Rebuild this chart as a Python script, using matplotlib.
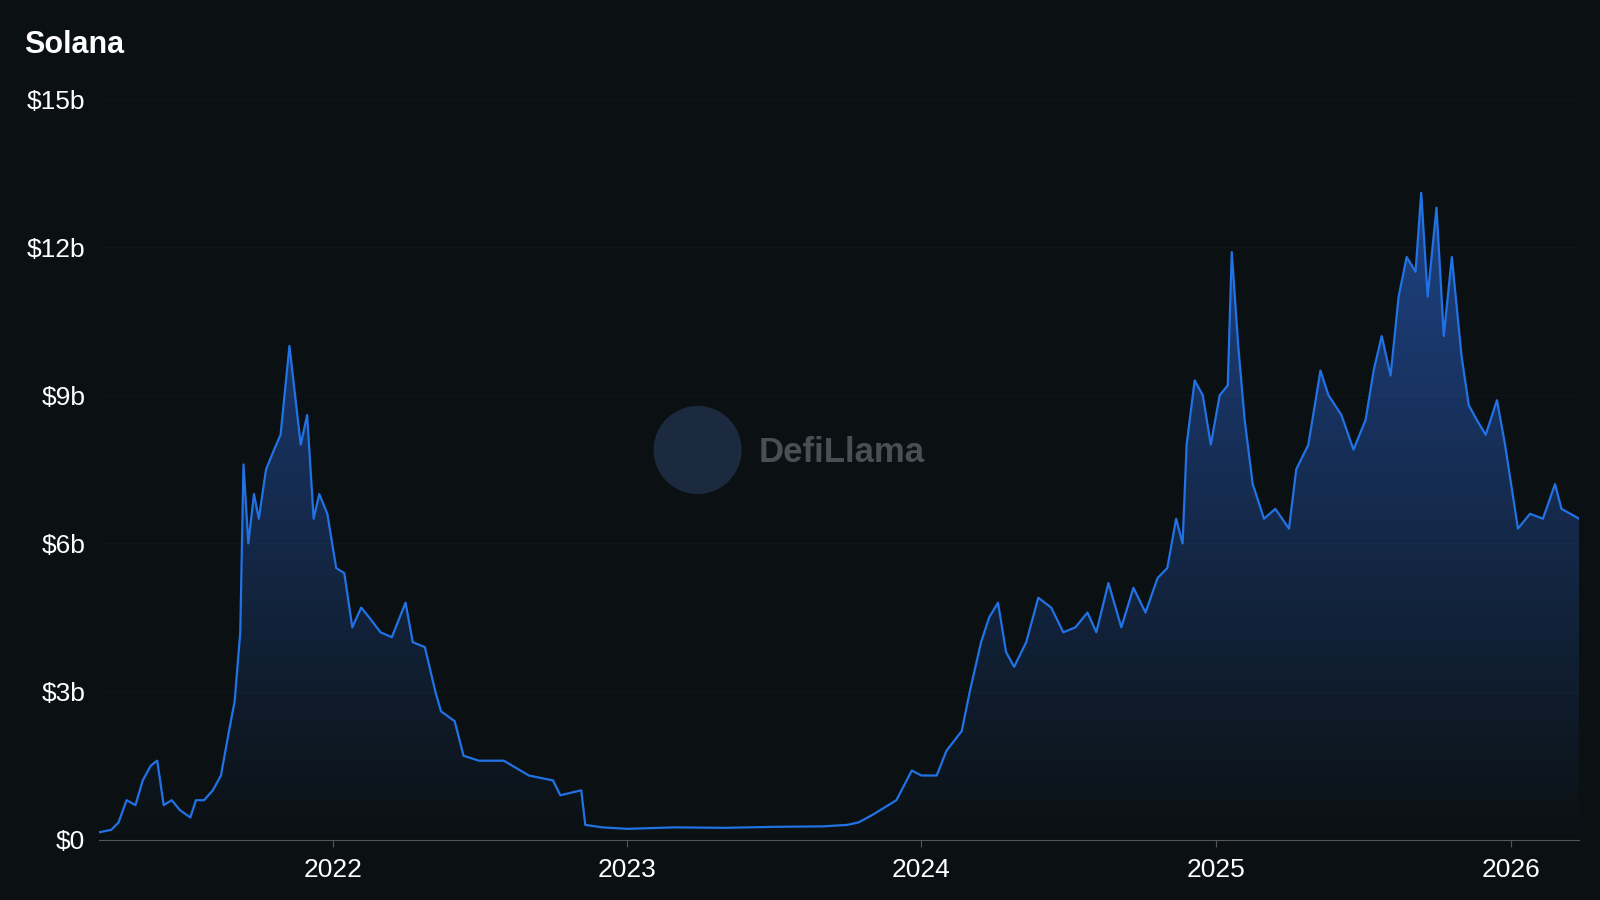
import matplotlib
matplotlib.use("Agg")
import matplotlib.pyplot as plt
import matplotlib.dates as mdates
import numpy as np
import pandas as pd
from matplotlib.patches import Polygon, Ellipse
from matplotlib.colors import LinearSegmentedColormap

plt.rcParams['font.family'] = ['Liberation Sans', 'DejaVu Sans']

dates = ["2021-03-17","2021-04-01","2021-04-10","2021-04-20","2021-05-01","2021-05-10","2021-05-20","2021-05-28",
"2021-06-05","2021-06-15","2021-06-25","2021-07-08","2021-07-15","2021-07-25","2021-08-05","2021-08-15","2021-08-25",
"2021-09-01","2021-09-08","2021-09-12","2021-09-18","2021-09-25","2021-10-01","2021-10-10","2021-10-20","2021-10-28",
"2021-11-05","2021-11-08","2021-11-15","2021-11-22","2021-11-30","2021-12-08","2021-12-15","2021-12-25","2022-01-05",
"2022-01-15","2022-01-25","2022-02-05","2022-02-15","2022-03-01","2022-03-15","2022-04-01","2022-04-10","2022-04-25",
"2022-05-08","2022-05-15","2022-06-01","2022-06-12","2022-07-01","2022-08-01","2022-09-01","2022-10-01","2022-10-10",
"2022-11-05","2022-11-10","2022-12-01","2023-01-01","2023-03-01","2023-05-01","2023-07-01","2023-09-01","2023-10-01",
"2023-10-15","2023-11-01","2023-12-01","2023-12-20","2024-01-01","2024-01-20","2024-02-01","2024-02-20","2024-03-01",
"2024-03-15","2024-03-25","2024-04-05","2024-04-15","2024-04-25","2024-05-10","2024-05-25","2024-06-10","2024-06-25",
"2024-07-10","2024-07-25","2024-08-05","2024-08-20","2024-09-05","2024-09-20","2024-10-05","2024-10-20","2024-11-01",
"2024-11-12","2024-11-20","2024-11-25","2024-12-05","2024-12-15","2024-12-25","2025-01-05","2025-01-15","2025-01-20",
"2025-01-28","2025-02-05","2025-02-15","2025-03-01","2025-03-15","2025-04-01","2025-04-10","2025-04-25","2025-05-10",
"2025-05-20","2025-06-05","2025-06-20","2025-07-05","2025-07-15","2025-07-25","2025-08-05","2025-08-15","2025-08-25",
"2025-09-05","2025-09-12","2025-09-20","2025-10-01","2025-10-10","2025-10-20","2025-11-01","2025-11-10","2025-11-20",
"2025-12-01","2025-12-15","2025-12-25","2026-01-10","2026-01-25","2026-02-10","2026-02-25","2026-03-05","2026-03-27"]
tvl = [0.15,0.2,0.35,0.8,0.7,1.2,1.5,1.6,
0.7,0.8,0.6,0.45,0.8,0.8,1.0,1.3,2.2,
2.8,4.2,7.6,6.0,7.0,6.5,7.5,7.9,8.2,
9.5,10.0,9.0,8.0,8.6,6.5,7.0,6.6,5.5,
5.4,4.3,4.7,4.5,4.2,4.1,4.8,4.0,3.9,
3.0,2.6,2.4,1.7,1.6,1.6,1.3,1.2,0.9,
1.0,0.3,0.25,0.22,0.25,0.24,0.26,0.27,0.3,
0.35,0.5,0.8,1.4,1.3,1.3,1.8,2.2,3.0,
4.0,4.5,4.8,3.8,3.5,4.0,4.9,4.7,4.2,
4.3,4.6,4.2,5.2,4.3,5.1,4.6,5.3,5.5,
6.5,6.0,8.0,9.3,9.0,8.0,9.0,9.2,11.9,
10.0,8.5,7.2,6.5,6.7,6.3,7.5,8.0,9.5,
9.0,8.6,7.9,8.5,9.5,10.2,9.4,11.0,11.8,
11.5,13.1,11.0,12.8,10.2,11.8,9.8,8.8,8.5,
8.2,8.9,8.0,6.3,6.6,6.5,7.2,6.7,6.5]
yticks = [0, 3, 6, 9, 12, 15]
ytick_labels = ["$0", "$3b", "$6b", "$9b", "$12b", "$15b"]
xtick_years = ["2022", "2023", "2024", "2025", "2026"]

bg = "#0b1113"
line_c = "#2172e5"
fig = plt.figure(figsize=(16, 9), dpi=100, facecolor=bg)
ax = fig.add_axes([0.062, 0.067, 0.925, 0.823], facecolor=bg)
x = mdates.date2num(pd.to_datetime(dates))
y = np.array(tvl)
ax.set_xlim(x[0], x[-1])
ax.set_ylim(0, 15)

grad = np.linspace(0, 1, 256).reshape(-1, 1)
cmap = LinearSegmentedColormap.from_list("g", [bg, "#1f4488"])
im = ax.imshow(grad, aspect="auto", cmap=cmap, origin="lower",
               extent=[x[0], x[-1], 0, 13.5], zorder=1)
poly = Polygon(np.column_stack([np.r_[x[0], x, x[-1]], np.r_[0, y, 0]]), closed=True,
               transform=ax.transData, facecolor="none", edgecolor="none")
ax.add_patch(poly)
im.set_clip_path(poly)
ax.plot(x, y, color=line_c, lw=1.6, zorder=3)

ax.set_yticks(yticks)
ax.set_yticklabels(ytick_labels)
ax.grid(axis="y", color="#ffffff", alpha=0.025, lw=1)
ax.set_xticks(mdates.date2num(pd.to_datetime([f"{yr}-01-01" for yr in xtick_years])))
ax.set_xticklabels(xtick_years)
ax.tick_params(axis="both", colors="white", labelsize=19, length=0)
ax.tick_params(axis="x", length=5, color="#555555", pad=8)
ax.tick_params(axis="y", pad=10)
for s in ["top", "right", "left"]:
    ax.spines[s].set_visible(False)
ax.spines["bottom"].set_color("#555555")

fig.text(0.015, 0.95, "Solana", color="white", fontsize=22, fontweight="bold", va="center")
fig.text(0.474, 0.497, "DefiLlama", color="#4a4f55", fontsize=25, fontweight="bold", va="center", ha="left")
fig.patches.append(Ellipse((0.436, 0.5), 0.055, 0.055 * 16 / 9, transform=fig.transFigure,
                   facecolor="#1b2a3e", edgecolor="none", figure=fig))
fig.savefig("out.png", dpi=100, facecolor=bg)
